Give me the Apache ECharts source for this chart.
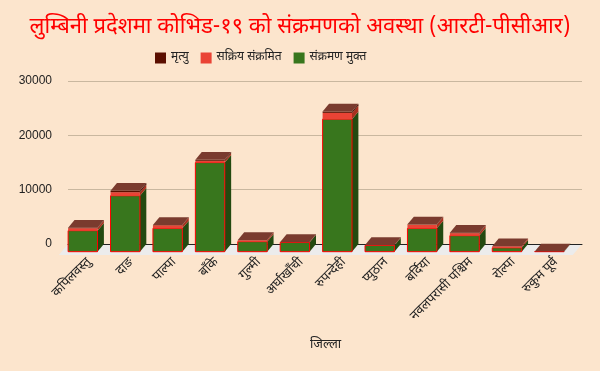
<!DOCTYPE html>
<html>
<head>
<meta charset="utf-8">
<script src="https://cdn.jsdelivr.net/npm/echarts@6/dist/echarts.min.js"></script>
<style>
html,body{margin:0;padding:0;background:#fce5cd;}
#chart{width:600px;height:371px;}
</style>
</head>
<body>
<div id="chart"></div>
<script>
// ---- data ----
const categories = ['कपिलवस्तु','दाङ','पाल्पा','बाँके','गुल्मी','अर्घाखाँची','रुपन्देही','प्युठान','बर्दिया','नवलपरासी पश्चिम','रोल्पा','रुकुम पूर्व'];
const recovered = [3870, 10300, 4300, 16400, 1850, 1700, 24400, 1150, 4300, 2950, 720, 40];
const active    = [450, 650, 560, 330, 250, 60, 1150, 60, 650, 460, 280, 5];
const deaths    = [100, 280, 60, 180, 40, 30, 250, 20, 80, 100, 20, 2];
const seriesNames = ['मृत्यु', 'सक्रिय संक्रमित', 'संक्रमण मुक्त'];
const yTicks = [0, 10000, 20000, 30000];

// ---- style ----
const DX = 6.4, DY = 7.7, BAR_RATIO = 0.693, FLOOR_DEPTH = 11;
const FONT = '"Noto Sans Devanagari", "Noto Sans", Arial, sans-serif';
const colors = {
  death:  {front:'#5b0f00', side:'#3a0900', top:'#7a3b2e'},
  active: {front:'#ea4335', side:'#a8301f', top:'#f07b6f'},
  rec:    {front:'#38761d', side:'#234a10', top:'#5a9a3c'}
};

function stackData(vals, bases) {
  return vals.map((v, i) => [i, bases[i], bases[i] + v]);
}
const base0 = recovered.map(() => 0);
const base1 = recovered.slice();
const base2 = recovered.map((v, i) => v + active[i]);

function makeRender(c, isTop, stroke) {
  return function (params, api) {
    const idx = api.value(0);
    const p0 = api.coord([idx, api.value(1)]);
    const p1 = api.coord([idx, api.value(2)]);
    const bw = api.size([1, 0])[0] * BAR_RATIO;
    const xl = p0[0] - bw / 2, xr = p0[0] + bw / 2;
    const yb = p0[1], yt = p1[1];
    const children = [
      {type:'polygon', shape:{points:[[xr,yb],[xr+DX,yb-DY],[xr+DX,yt-DY],[xr,yt]]}, style:{fill:c.side}},
      {type:'rect', shape:{x:xl, y:yt, width:bw, height:Math.max(yb-yt,0)},
       style:{fill:c.front, stroke: stroke ? '#ff0000' : null, lineWidth: stroke ? 1 : 0}}
    ];
    if (isTop) {
      children.push({type:'polygon', shape:{points:[[xl,yt],[xr,yt],[xr+DX,yt-DY],[xl+DX,yt-DY]]}, style:{fill:c.top}});
    }
    return {type:'group', children};
  };
}

function floorRender(params, api) {
  const cs = params.coordSys;
  const y0 = api.coord([0, 0])[1];
  const s = DX / DY * FLOOR_DEPTH;
  return {type:'polygon', shape:{points:[
    [cs.x, y0], [cs.x + cs.width, y0],
    [cs.x + cs.width - s, y0 + FLOOR_DEPTH], [cs.x - s, y0 + FLOOR_DEPTH]
  ]}, style:{fill:'#ececec'}};
}

const chart = echarts.init(document.getElementById('chart'));
chart.setOption({
  backgroundColor: '#fce5cd',
  animation: false,
  title: [
    {text:'लुम्बिनी प्रदेशमा कोभिड-१९ को संक्रमणको अवस्था (आरटी-पीसीआर)', left:'center', top:13,
     textStyle:{color:'#ff0000', fontSize:22, fontWeight:'normal', fontFamily:FONT}},
    {text:'जिल्ला', left:305, top:334, textStyle:{color:'#222', fontSize:13, fontWeight:'normal', fontFamily:FONT}}
  ],
  legend: {
    data: seriesNames.map(n => ({name:n, icon:'rect'})),
    left: 150, top: 47, itemWidth: 11, itemHeight: 11, itemGap: 12,
    textStyle: {color:'#222', fontSize:12, fontFamily:FONT}
  },
  grid: [
    {left:68, right:18, top:81, bottom:127},
    {left:61.6, right:29.4, top:88.7, bottom:119.3},
    {left:68.6, right:22.4, top:88.7, bottom:119.3}
  ],
  xAxis: [
    {type:'category', gridIndex:0, data:categories, axisLabel:{show:false}, axisTick:{show:false},
     axisLine:{show:true, lineStyle:{color:'#222', width:1}}, z:5},
    {type:'category', gridIndex:1, data:categories, axisTick:{show:false}, axisLine:{show:false}, axisLabel:{show:false}},
    {type:'category', gridIndex:2, data:categories, axisTick:{show:false}, axisLine:{show:false},
     axisLabel:{rotate:45, margin:9, interval:0, color:'#222', fontSize:13, fontFamily:FONT}}
  ],
  yAxis: [
    {type:'value', gridIndex:0, min:0, max:30000, interval:10000,
     axisLabel:{margin:16, color:'#222', fontSize:12, fontFamily:'Arial, "Liberation Sans", sans-serif',
       formatter: v => yTicks.indexOf(v) >= 0 ? String(v) : ''},
     splitLine:{lineStyle:{color:'#c9b79f'}}, axisLine:{show:false}, axisTick:{show:false}},
    {type:'value', gridIndex:1, min:0, max:30000, interval:10000, show:false, splitLine:{show:false}},
    {type:'value', gridIndex:2, min:0, max:30000, interval:10000, show:false, splitLine:{show:false}}
  ],
  series: [
    {type:'custom', name:'floor', xAxisIndex:0, yAxisIndex:0, z:1, data:[[0,0]], renderItem:floorRender, silent:true},
    {type:'custom', name:seriesNames[2], xAxisIndex:1, yAxisIndex:1, z:10, itemStyle:{color:colors.rec.front},
     data:stackData(recovered, base0), renderItem:makeRender(colors.rec, false, true)},
    {type:'custom', name:seriesNames[1], xAxisIndex:1, yAxisIndex:1, z:10, itemStyle:{color:colors.active.front},
     data:stackData(active, base1), renderItem:makeRender(colors.active, false, false)},
    {type:'custom', name:seriesNames[0], xAxisIndex:1, yAxisIndex:1, z:10, itemStyle:{color:colors.death.front},
     data:stackData(deaths, base2), renderItem:makeRender(colors.death, true, false)}
  ]
});
</script>
</body>
</html>
